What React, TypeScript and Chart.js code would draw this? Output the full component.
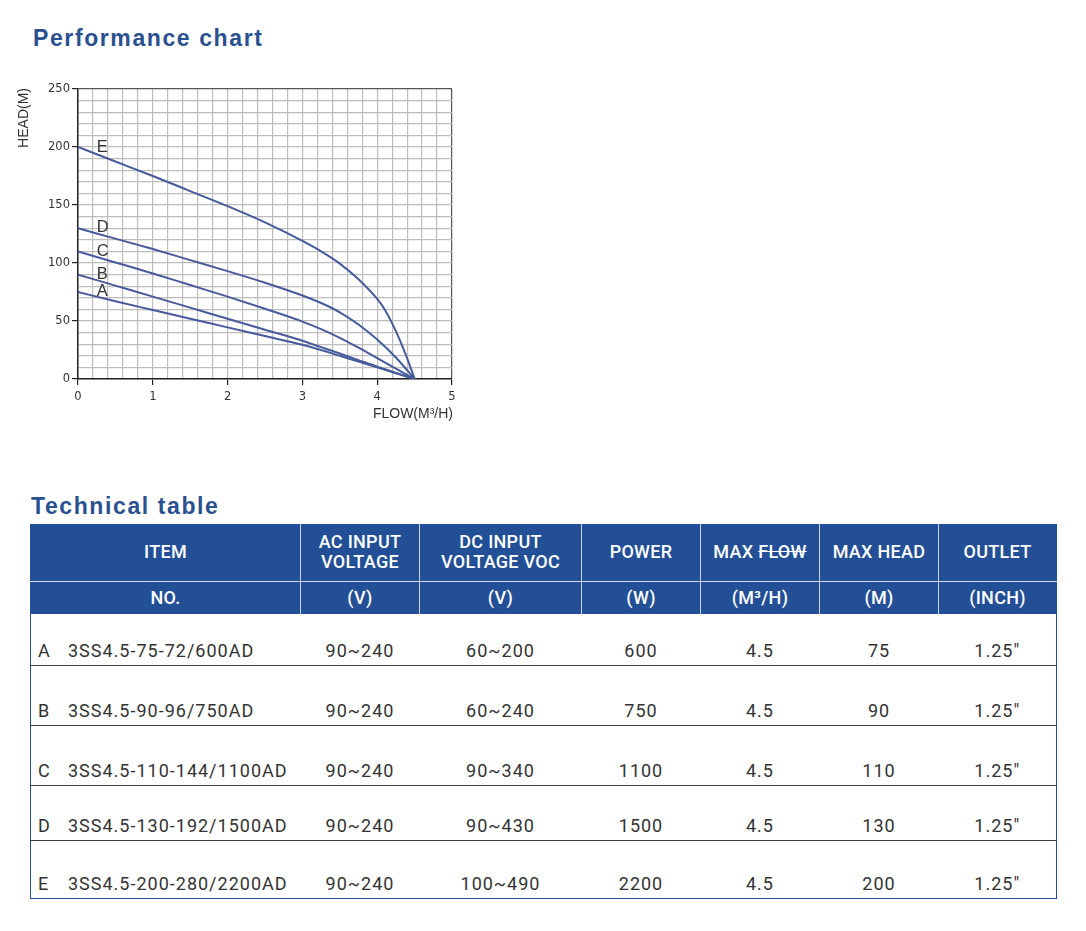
import React, { useEffect, useRef } from "react";
import { Chart, registerables } from "chart.js";

Chart.register(...registerables);

// ---------- chart data ----------
const curveNames = ["A", "B", "C", "D", "E"];
const flowAD = [0, 0.5, 1, 1.5, 2, 2.5, 3, 3.25, 3.5, 3.75, 4, 4.25, 4.5];
const headA = [75, 67, 59.5, 52, 44.5, 37, 29.5, 25, 20, 15, 10, 5, 0];
const headB = [90, 80.5, 71, 61.5, 52, 42.5, 33, 27.5, 22, 16.3, 10.6, 5.3, 0];
const headC = [110, 100.5, 91, 81, 71, 60.5, 49.5, 43, 35.5, 27, 18, 9, 0];
const headD = [130, 121, 112, 102.5, 93, 83, 72, 65.5, 57.5, 47, 34, 18.5, 0];
const flowE = [0, 0.5, 1, 1.5, 2, 2.5, 3, 3.25, 3.5, 3.75, 4, 4.1, 4.2, 4.3, 4.4, 4.5];
const headE = [200, 187.5, 175, 162, 149, 135, 119, 110, 99.5, 86, 69, 60, 48, 34, 18, 0];
const labelFlow = 0.25;
const labelHead = [71.5, 86, 106, 126.5, 195.5];
const xTitle = "FLOW(M³/H)";
const yTitle = "HEAD(M)";

// ---------- table data ----------
const headRow1 = ["ITEM", "AC INPUT\nVOLTAGE", "DC INPUT\nVOLTAGE VOC", "POWER", "MAX FLOW", "MAX HEAD", "OUTLET"];
const headRow2 = ["NO.", "(V)", "(V)", "(W)", "(M³/H)", "(M)", "(INCH)"];
const itemLetters = ["A", "B", "C", "D", "E"];
const models = ["3SS4.5-75-72/600AD", "3SS4.5-90-96/750AD", "3SS4.5-110-144/1100AD", "3SS4.5-130-192/1500AD", "3SS4.5-200-280/2200AD"];
const acVoltage = ["90~240", "90~240", "90~240", "90~240", "90~240"];
const dcVoltage = ["60~200", "60~240", "90~340", "90~430", "100~490"];
const power = ["600", "750", "1100", "1500", "2200"];
const maxFlow = ["4.5", "4.5", "4.5", "4.5", "4.5"];
const maxHead = ["75", "90", "110", "130", "200"];
const outlet = ['1.25"', '1.25"', '1.25"', '1.25"', '1.25"'];

const colWidths = [270, 119, 162, 119, 119, 119, 118];
const bodyRowHeights = [51, 60, 60, 55, 58];

const LINE = "#475a9b";
const BLUE = "#234f96";

const isInt = (v: number) => Math.abs(v - Math.round(v)) < 1e-6;

const annotPlugin = {
  id: "annot",
  afterDraw(chart: any) {
    const { ctx, chartArea, scales } = chart;
    ctx.save();
    ctx.fillStyle = "#333";
    ctx.font = '16.5px "Liberation Sans", Arial, sans-serif';
    ctx.textAlign = "left";
    ctx.textBaseline = "alphabetic";
    curveNames.forEach((n, i) => {
      ctx.fillText(n, scales.x.getPixelForValue(labelFlow), scales.y.getPixelForValue(labelHead[i]));
    });
    ctx.font = '14px "Liberation Sans", Arial, sans-serif';
    ctx.textAlign = "right";
    ctx.textBaseline = "middle";
    ctx.fillText(xTitle, chartArea.right + 1, chartArea.bottom + 35);
    ctx.translate(14, chartArea.top - 1);
    ctx.rotate(-Math.PI / 2);
    ctx.fillText(yTitle, 0, 0);
    ctx.restore();
  },
};

function PerfChart() {
  const ref = useRef<HTMLCanvasElement>(null);
  useEffect(() => {
    const mk = (fx: number[], hy: number[]) => fx.map((x, i) => ({ x, y: hy[i] }));
    const series = [
      mk(flowAD, headA),
      mk(flowAD, headB),
      mk(flowAD, headC),
      mk(flowAD, headD),
      mk(flowE, headE),
    ];
    const chart = new Chart(ref.current as HTMLCanvasElement, {
      type: "line",
      data: {
        datasets: series.map((d, i) => ({
          label: curveNames[i],
          data: d,
          borderColor: LINE,
          borderWidth: 2,
          pointRadius: 0,
          fill: false,
          cubicInterpolationMode: "monotone" as const,
        })),
      },
      options: {
        animation: false,
        responsive: false,
        devicePixelRatio: 1,
        layout: { padding: { top: 19, right: 18, left: 0, bottom: 0 } },
        plugins: { legend: { display: false }, tooltip: { enabled: false } },
        scales: {
          x: {
            type: "linear",
            min: 0,
            max: 5,
            afterFit: (s: any) => {
              s.height = 51;
            },
            ticks: {
              stepSize: 0.2,
              autoSkip: false,
              maxRotation: 0,
              padding: 5,
              color: "#333",
              font: { family: "DejaVu Sans", size: 11.5 },
              callback: (v: any) => (isInt(Number(v)) ? String(Math.round(Number(v))) : ""),
            },
            grid: {
              color: (c: any) => (c.tick && isInt(c.tick.value) && Math.round(c.tick.value) === 5 ? "#555" : "#bdbdbd"),
              lineWidth: 1.2,
              tickLength: 6,
              tickColor: (c: any) => (c.tick && isInt(c.tick.value) ? "#222" : "rgba(0,0,0,0)"),
            },
            border: { color: "#222", width: 1.5 },
          },
          y: {
            min: 0,
            max: 250,
            afterFit: (s: any) => {
              s.width = 68;
            },
            ticks: {
              stepSize: 10,
              autoSkip: false,
              padding: 2,
              color: "#333",
              font: { family: "DejaVu Sans", size: 11.5 },
              callback: (v: any) => (Number(v) % 50 === 0 ? String(v) : ""),
            },
            grid: {
              color: (c: any) => (c.tick && c.tick.value === 250 ? "#555" : "#bdbdbd"),
              lineWidth: 1.2,
              tickLength: 6,
              tickColor: (c: any) => (c.tick && c.tick.value % 50 === 0 ? "#222" : "rgba(0,0,0,0)"),
            },
            border: { color: "#222", width: 1.5 },
          },
        },
      },
      plugins: [annotPlugin],
    });
    return () => chart.destroy();
  }, []);
  return (
    <canvas
      ref={ref}
      width={460}
      height={360}
      style={{ position: "absolute", left: 10, top: 70, width: 460, height: 360 }}
    />
  );
}

const titleStyle: React.CSSProperties = {
  position: "absolute",
  margin: 0,
  fontFamily: '"Liberation Sans", Arial, sans-serif',
  fontWeight: 700,
  fontSize: 23,
  lineHeight: "23px",
  letterSpacing: 1.6,
  color: "#2a5090",
  whiteSpace: "nowrap",
};

const headCell: React.CSSProperties = {
  background: BLUE,
  color: "#fff",
  textAlign: "center",
  verticalAlign: "middle",
  fontFamily: "Roboto, sans-serif",
  fontWeight: 500,
  fontSize: 18,
  lineHeight: "20px",
  letterSpacing: 0.3,
  borderRight: "1px solid rgba(255,255,255,0.75)",
  padding: 0,
  whiteSpace: "pre-line",
};

const bodyCell: React.CSSProperties = {
  color: "#333",
  textAlign: "center",
  verticalAlign: "bottom",
  fontFamily: "Roboto, sans-serif",
  fontSize: 18,
  lineHeight: "20px",
  letterSpacing: 1,
  padding: "0 0 4px 0",
  whiteSpace: "nowrap",
};

function TechTable() {
  const cols = [acVoltage, dcVoltage, power, maxFlow, maxHead, outlet];
  return (
    <table
      style={{
        position: "absolute",
        left: 30,
        top: 524,
        width: 1026,
        borderCollapse: "collapse",
        tableLayout: "fixed",
        borderLeft: `1.5px solid ${BLUE}`,
        borderRight: `1.5px solid ${BLUE}`,
      }}
    >
      <colgroup>
        {colWidths.map((w, i) => (
          <col key={i} style={{ width: w }} />
        ))}
      </colgroup>
      <tbody>
        <tr style={{ height: 57 }}>
          {headRow1.map((h, i) => (
            <td
              key={i}
              style={{
                ...headCell,
                borderBottom: "1px solid rgba(255,255,255,0.8)",
                borderRight: i === headRow1.length - 1 ? "none" : headCell.borderRight,
              }}
            >
              {h === "MAX FLOW" ? (
                <span>
                  MAX <span style={{ textDecoration: "line-through" }}>FLOW</span>
                </span>
              ) : (
                h
              )}
            </td>
          ))}
        </tr>
        <tr style={{ height: 33 }}>
          {headRow2.map((h, i) => (
            <td key={i} style={{ ...headCell, borderRight: i === headRow2.length - 1 ? "none" : headCell.borderRight }}>
              {h}
            </td>
          ))}
        </tr>
        {models.map((m, r) => {
          const bb = r === models.length - 1 ? `1.5px solid ${BLUE}` : "1.5px solid #3c3c3c";
          return (
            <tr key={r} style={{ height: bodyRowHeights[r] }}>
              <td style={{ ...bodyCell, textAlign: "left", paddingLeft: 7, borderBottom: bb }}>
                <span style={{ display: "inline-block", width: 30, letterSpacing: 0 }}>{itemLetters[r]}</span>
                {m}
              </td>
              {cols.map((c, j) => (
                <td key={j} style={{ ...bodyCell, borderBottom: bb }}>
                  {c[r]}
                </td>
              ))}
            </tr>
          );
        })}
      </tbody>
    </table>
  );
}

export default function App() {
  return (
    <div style={{ position: "absolute", left: 0, top: 0, width: 1086, height: 931, background: "#fff" }}>
      <div style={{ ...titleStyle, left: 33, top: 27 }}>Performance chart</div>
      <PerfChart />
      <div style={{ ...titleStyle, left: 31, top: 495 }}>Technical table</div>
      <TechTable />
    </div>
  );
}
